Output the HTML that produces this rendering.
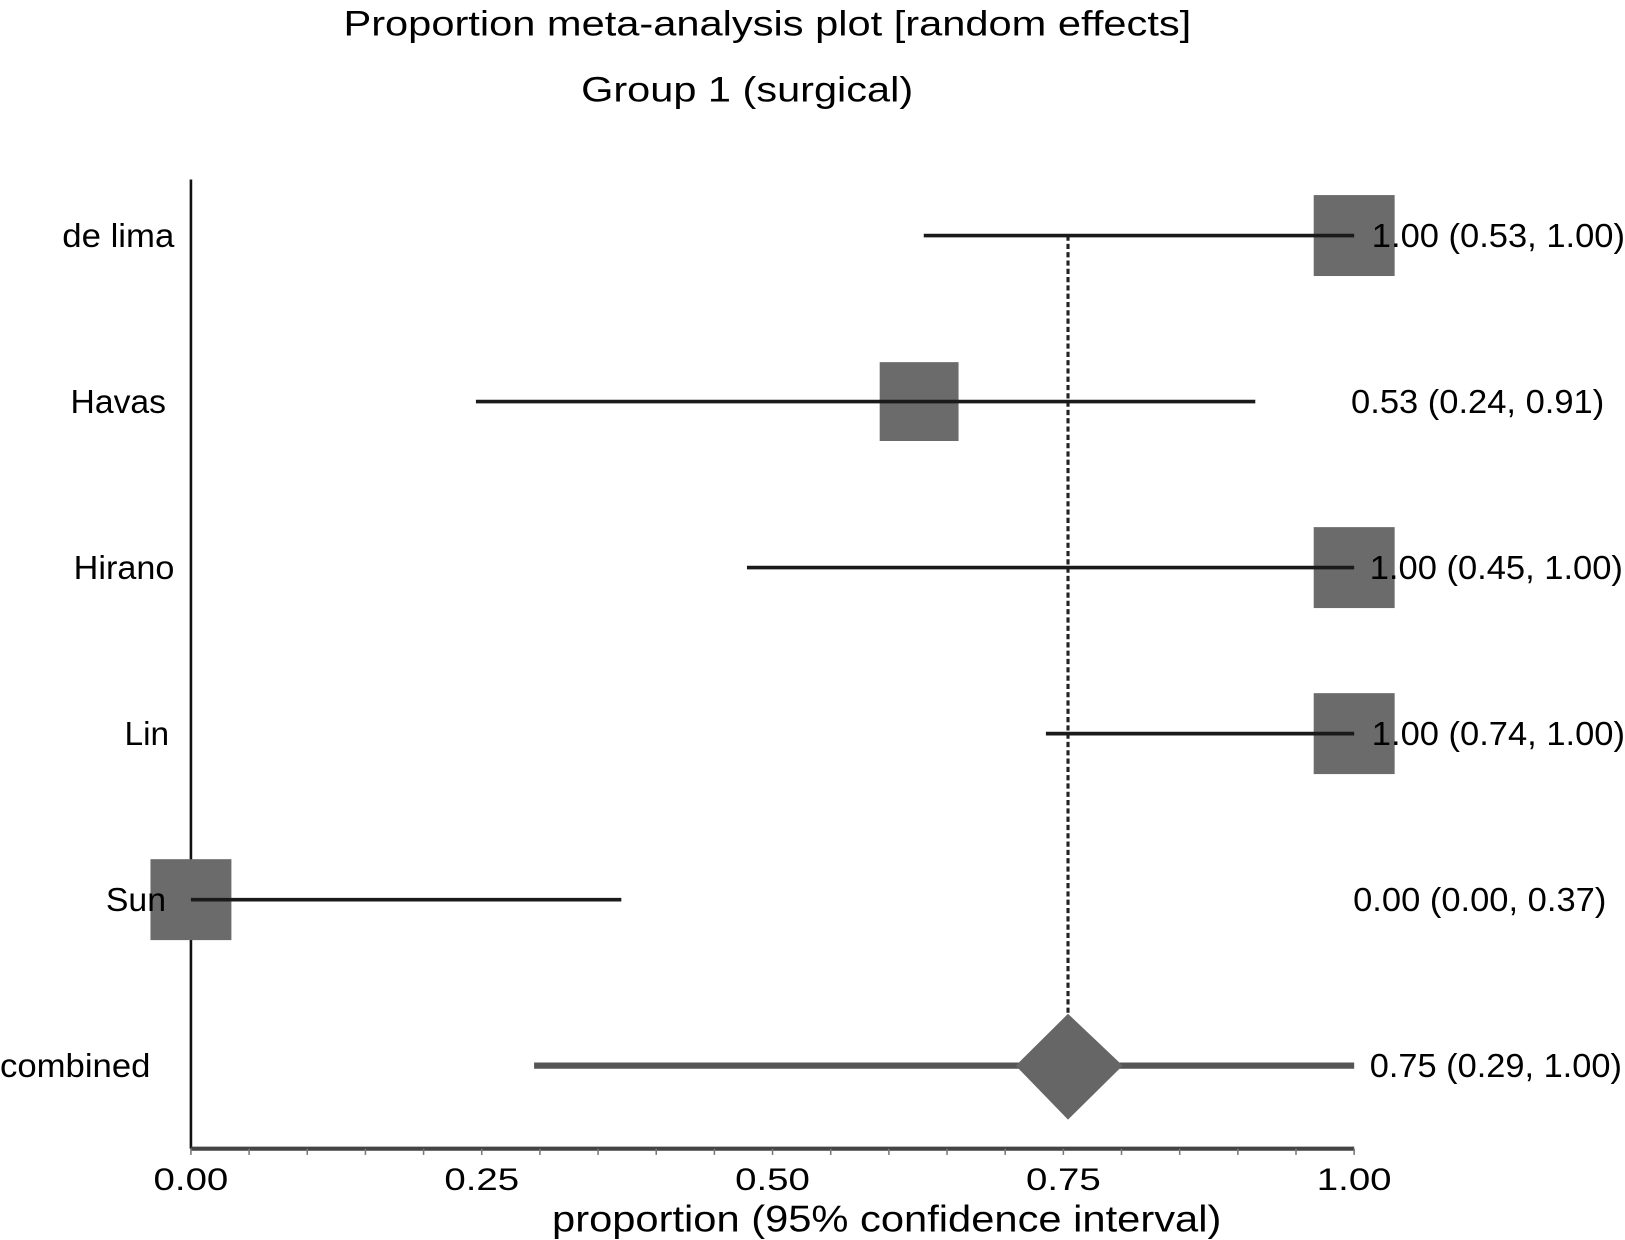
<!DOCTYPE html>
<html><head><meta charset="utf-8"><style>
html,body{margin:0;padding:0;background:#fff;}
svg{display:block;font-family:"Liberation Sans",Arial,sans-serif;}
</style></head><body>
<svg id="chart" width="1625" height="1240" viewBox="0 0 1566 1195" preserveAspectRatio="none" xmlns="http://www.w3.org/2000/svg">
<text x="331" y="34" font-size="34" textLength="817" lengthAdjust="spacingAndGlyphs">Proportion meta-analysis plot [random effects]</text>
<text x="560" y="98" font-size="34" textLength="320" lengthAdjust="spacingAndGlyphs">Group 1 (surgical)</text>
<g id="plot"></g>
<text x="532" y="1187" font-size="36" textLength="645" lengthAdjust="spacingAndGlyphs">proportion (95% confidence interval)</text>
</svg>
<script>
const studies = ["de lima","Havas","Hirano","Lin","Sun"];
const estimates = [1.0, 0.626, 1.0, 1.0, 0.0];
const lowers = [0.63, 0.245, 0.478, 0.735, 0.0];
const uppers = [1.0, 0.915, 1.0, 1.0, 0.37];
const valueLabels = ["1.00 (0.53, 1.00)","0.53 (0.24, 0.91)","1.00 (0.45, 1.00)","1.00 (0.74, 1.00)","0.00 (0.00, 0.37)"];
const combinedLabel = "combined";
const combinedEst = 0.754;
const combinedDiamond = [0.709, 0.801];
const combinedCI = [0.295, 1.0];
const combinedValueLabel = "0.75 (0.29, 1.00)";
const tickLabels = ["0.00","0.25","0.50","0.75","1.00"];
const tickValues = [0, 0.25, 0.5, 0.75, 1.0];

const labelBox = [[60,108],[68,92],[71,97],[120,43],[102,58]];
const valueLeft = [1322,1302,1320,1322,1304];

const NS="http://www.w3.org/2000/svg";
const g=document.getElementById('plot');
const X0=184, X1=1305;
const x=v=>X0+v*(X1-X0);
const rowY=i=>227+i*160;
const axisY=1107;
function el(t,a){const e=document.createElementNS(NS,t);for(const k in a)e.setAttribute(k,a[k]);g.appendChild(e);return e;}

const va=el('line',{x1:X0,y1:173,x2:X0,y2:axisY,stroke:'#111','stroke-width':2.5});


const ha=el('line',{x1:X0,y1:axisY,x2:X1,y2:axisY,stroke:'#444','stroke-width':4});


for(let k=0;k<=20;k++){
  const t=el('line',{x1:x(k/20),y1:axisY,x2:x(k/20),y2:axisY+6,stroke:'#777','stroke-width':1.5});
  
  
}
tickValues.forEach((v,i)=>{
  const t=el('text',{x:x(v)-36,y:axisY+40,'font-size':30,textLength:72,lengthAdjust:'spacingAndGlyphs'});
  t.textContent=tickLabels[i];
  
  
});
const yc=rowY(5);
const dl=el('line',{x1:x(combinedEst),y1:rowY(0),x2:x(combinedEst),y2:yc-50,stroke:'#222','stroke-width':3,'stroke-dasharray':'5,3'});



studies.forEach((s,i)=>{
  const y=rowY(i);
  const sz=i==1?76:78;
  const sq=el('rect',{x:x(estimates[i])-sz/2,y:y-sz/2,width:sz,height:sz,fill:'#6b6b6b'});
  
  
  const ci=el('line',{x1:x(lowers[i]),y1:y,x2:x(uppers[i]),y2:y,stroke:'#1a1a1a','stroke-width':3.5});
  
  
  const lb=el('text',{x:labelBox[i][0],y:y+11,'font-size':32,textLength:labelBox[i][1],lengthAdjust:'spacingAndGlyphs'});
  lb.textContent=s;
  
  
  const vl=el('text',{x:valueLeft[i],y:y+11,'font-size':32,textLength:244,lengthAdjust:'spacingAndGlyphs'});
  vl.textContent=valueLabels[i];
  
  
});
const cl=el('line',{x1:x(combinedCI[0]),y1:yc,x2:x(combinedCI[1]),y2:yc,stroke:'#555','stroke-width':6});


const dm=el('polygon',{points:`${x(combinedDiamond[0])},${yc} ${x(combinedEst)},${yc-50} ${x(combinedDiamond[1])},${yc} ${x(combinedEst)},${yc+52}`,fill:'#666'});


const cb=el('text',{x:0,y:yc+11,'font-size':32,textLength:145,lengthAdjust:'spacingAndGlyphs'});
cb.textContent=combinedLabel;


const cv=el('text',{x:1320,y:yc+11,'font-size':32,textLength:243,lengthAdjust:'spacingAndGlyphs'});
cv.textContent=combinedValueLabel;


</script>
</body></html>
